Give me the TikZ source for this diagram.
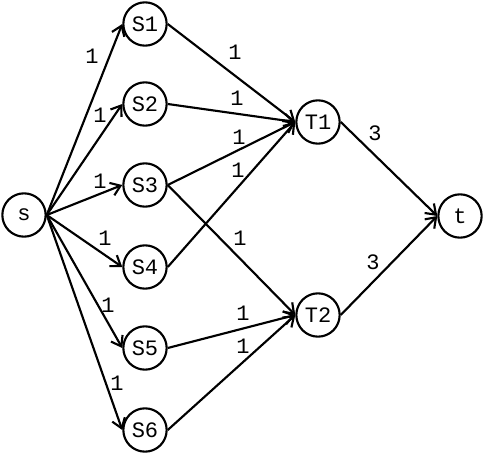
\documentclass[tikz,border=0pt]{standalone}
\usepackage{fontspec}
\setmonofont{Liberation Mono}
\usetikzlibrary{arrows.meta}

\begin{document}
\begin{tikzpicture}[x=0.75pt,y=-0.75pt,
  vert/.style={draw,circle,line width=1.6pt,minimum size=32.5pt,inner sep=0pt,
    font=\ttfamily\fontsize{16.5}{18}\selectfont},
  edge/.style={line width=1.6pt,-{Straight Barb[length=7pt,width=10pt]}},
  wt/.style={inner sep=0pt,font=\ttfamily\fontsize{16.5}{18}\selectfont}]
\useasboundingbox (0,0) rectangle (485,456);
\node[vert] (s) at (24,215) {s};
\node[vert] (S1) at (145,24) {S1};
\node[vert] (S2) at (145,104) {S2};
\node[vert] (S3) at (145,185) {S3};
\node[vert] (S4) at (145,267) {S4};
\node[vert] (S5) at (145,348) {S5};
\node[vert] (S6) at (145,430) {S6};
\node[vert] (T1) at (318,122) {T1};
\node[vert] (T2) at (318,315) {T2};
\node[vert] (t) at (460,216) {t};
\draw[edge] (s.east) -- (S1.west);
\draw[edge] (s.east) -- (S2.west);
\draw[edge] (s.east) -- (S3.west);
\draw[edge] (s.east) -- (S4.west);
\draw[edge] (s.east) -- (S5.west);
\draw[edge] (s.east) -- (S6.west);
\draw[edge] (S1.east) -- (T1.west);
\draw[edge] (S2.east) -- (T1.west);
\draw[edge] (S3.east) -- (T1.west);
\draw[edge] (S4.east) -- (T1.west);
\draw[edge] (S3.east) -- (T2.west);
\draw[edge] (S5.east) -- (T2.west);
\draw[edge] (S6.east) -- (T2.west);
\draw[edge] (T1.east) -- (t.west);
\draw[edge] (T2.east) -- (t.west);
\node[wt] (w1) at (92,56) {1};
\node[wt] (w2) at (100,115) {1};
\node[wt] (w3) at (100,181) {1};
\node[wt] (w4) at (105,238) {1};
\node[wt] (w5) at (108,305) {1};
\node[wt] (w6) at (117,383) {1};
\node[wt] (w7) at (235,52) {1};
\node[wt] (w8) at (237,98) {1};
\node[wt] (w9) at (239,137) {1};
\node[wt] (w10) at (238,170) {1};
\node[wt] (w11) at (240,238) {1};
\node[wt] (w12) at (243,313) {1};
\node[wt] (w13) at (243,346) {1};
\node[wt] (w14) at (375,133) {3};
\node[wt] (w15) at (373,262) {3};
\end{tikzpicture}
\end{document}
